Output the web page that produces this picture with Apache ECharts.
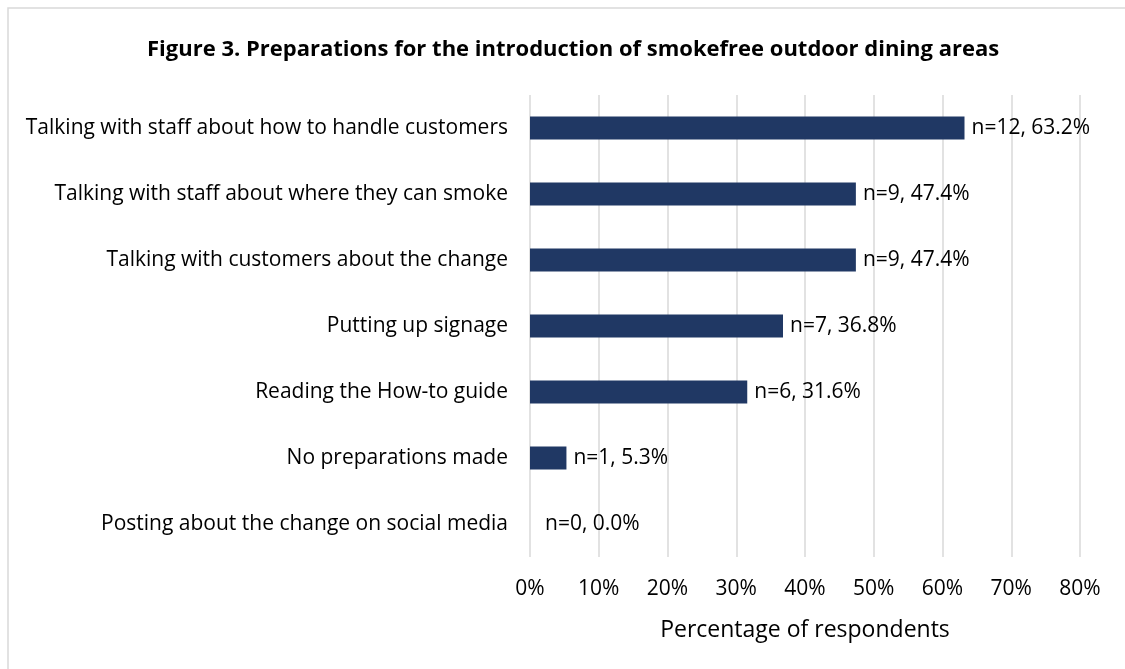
<!DOCTYPE html>
<html>
<head>
<meta charset="utf-8">
<script src="https://cdn.jsdelivr.net/npm/echarts@6/dist/echarts.min.js"></script>
<style>
  html, body { margin: 0; padding: 0; background: #fff; }
  #chart { width: 1125px; height: 669px; }
</style>
</head>
<body>
<div id="chart"></div>
<script>
// Preparation activities, listed top to bottom
const categories = [
  'Talking with staff about how to handle customers',
  'Talking with staff about where they can smoke',
  'Talking with customers about the change',
  'Putting up signage',
  'Reading the How-to guide',
  'No preparations made',
  'Posting about the change on social media'
];
const counts = [12, 9, 9, 7, 6, 1, 0];
const percents = [63.2, 47.4, 47.4, 36.8, 31.6, 5.3, 0.0];
const xTicks = [0, 10, 20, 30, 40, 50, 60, 70, 80];

const FONT = '"Open Sans", "Noto Sans", sans-serif';
const chart = echarts.init(document.getElementById('chart'), null, { renderer: 'canvas' });

// y category axis runs bottom-up, so reverse the lists
const yCats = categories.slice().reverse();
const barData = percents.map((p, i) => ({
  value: p,
  n: counts[i],
  label: p === 0 ? { distance: 15 } : undefined
})).reverse();

chart.setOption({
  animation: false,
  backgroundColor: '#fff',
  graphic: [{
    type: 'rect',
    shape: { x: 8, y: 8, width: 1200, height: 800 },
    style: { fill: 'none', stroke: '#d9d9d9', lineWidth: 1.5 },
    silent: true,
    z: -1
  }],
  title: {
    text: 'Figure 3. Preparations for the introduction of smokefree outdoor dining areas',
    left: 142,
    top: 34,
    textStyle: { fontFamily: FONT, fontWeight: 'bold', fontSize: 22, color: '#000' }
  },
  grid: { left: 530, right: 45, top: 95, bottom: 112, containLabel: false },
  xAxis: {
    type: 'value',
    min: 0,
    max: 80,
    interval: 10,
    axisLine: { show: false },
    axisTick: { show: false },
    splitLine: { show: true, lineStyle: { color: '#d9d9d9', width: 1.5 } },
    axisLabel: {
      margin: 22,
      fontFamily: FONT,
      fontSize: 21,
      color: '#000',
      formatter: v => xTicks.includes(v) ? v + '%' : ''
    },
    name: 'Percentage of respondents',
    nameLocation: 'middle',
    nameGap: 62,
    nameTextStyle: { fontFamily: FONT, fontSize: 23, color: '#000' }
  },
  yAxis: {
    type: 'category',
    data: yCats,
    axisLine: { show: false },
    axisTick: { show: false },
    axisLabel: { margin: 22, fontFamily: FONT, fontSize: 21, color: '#000' }
  },
  series: [{
    type: 'bar',
    data: barData,
    barWidth: 23,
    itemStyle: { color: '#203864' },
    label: {
      show: true,
      position: 'right',
      distance: 7,
      fontFamily: FONT,
      fontSize: 21,
      color: '#000',
      formatter: p => 'n=' + p.data.n + ', ' + p.value.toFixed(1) + '%'
    }
  }]
});
</script>
</body>
</html>
